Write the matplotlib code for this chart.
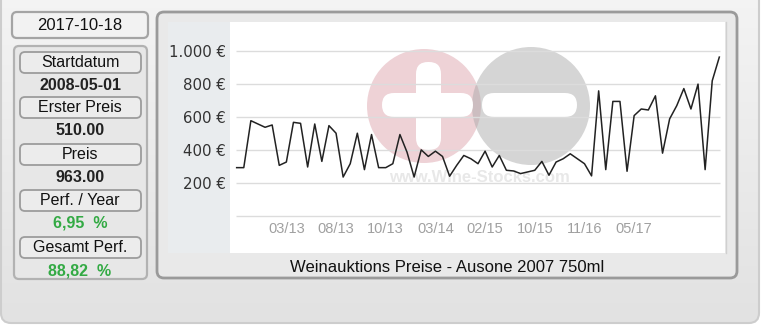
import numpy as np
import matplotlib
matplotlib.use("Agg")
import matplotlib.pyplot as plt
from matplotlib.patches import FancyBboxPatch, Circle, Rectangle

# chart data
preise = [292, 292, 577, 557, 537, 551, 306, 326, 567, 561,
          296, 557, 330, 547, 501, 235, 316, 501, 280, 493,
          292, 292, 316, 493, 386, 235, 400, 360, 392, 360,
          240, 306, 366, 346, 316, 392, 296, 366, 276, 272,
          256, 266, 276, 330, 246, 326, 346, 376, 346, 316,
          242, 758, 280, 694, 694, 270, 608, 648, 642, 728,
          380, 588, 668, 772, 648, 799, 280, 819, 963]
tick_pos = [7, 14, 21, 28, 35, 42, 49, 56]
tick_labels = ["03/13", "08/13", "10/13", "03/14", "02/15", "10/15", "11/16", "05/17"]
y_ticks = [200, 400, 600, 800, 1000]
grid_vals = [0, 200, 400, 600, 800, 1000]

datum = "2017-10-18"
info_labels = ["Startdatum", "Erster Preis", "Preis", "Perf. / Year", "Gesamt Perf."]
info_values = ["2008-05-01", "510.00", "963.00", "6,95  %", "88,82  %"]
info_colors = ["#222222", "#222222", "#222222", "#33aa44", "#33aa44"]
titel = "Weinauktions Preise - Ausone 2007 750ml"

W, H = 762, 327
FONT = "Liberation Sans"

fig = plt.figure(figsize=(W / 100, H / 100), dpi=100)
fig.patch.set_facecolor("white")


def frac(x0, y0, x1, y1):
    return [x0 / W, 1 - y1 / H, (x1 - x0) / W, (y1 - y0) / H]


def rbox(ax, x0, y0, x1, y1, r, fc, ec, lw, z=1):
    p = FancyBboxPatch((x0, y0), x1 - x0, y1 - y0,
                       boxstyle=f"round,pad=0,rounding_size={r}",
                       fc=fc, ec=ec, lw=lw, zorder=z)
    ax.add_patch(p)
    return p


# background layer in pixel coordinates
bg = fig.add_axes([0, 0, 1, 1])
bg.set_xlim(0, W)
bg.set_ylim(H, 0)
bg.axis("off")

outer = rbox(bg, 1, -12, 759, 323, 10, "none", "#cdcdcd", 1.5, z=2)
grad = np.linspace(0, 1, 100).reshape(-1, 1)
im = bg.imshow(grad, extent=(1, 759, 323, -12), cmap=matplotlib.colors.LinearSegmentedColormap.from_list(
    "g", ["#f4f4f4", "#ebebeb", "#e2e2e2"]), aspect="auto", zorder=1)
im.set_clip_path(outer)

# left column
rbox(bg, 12, 12, 148, 38, 5, "#f2f2f2", "#a4a4a4", 1.6, z=3)
bg.text(80, 25.5, datum, ha="center", va="center", fontsize=12, family=FONT, color="#111111", zorder=4)

rbox(bg, 14, 46, 147, 279, 5, "#e7e7e7", "#b2b2b2", 1.6, z=3)
pill_tops = [52, 97, 144, 190, 237]
for top, lab, val, col in zip(pill_tops, info_labels, info_values, info_colors):
    rbox(bg, 20, top, 141, top + 21, 5, "#ececec", "#9c9c9c", 1.3, z=4)
    bg.text(80, top + 10.5, lab, ha="center", va="center", fontsize=11.5, family=FONT,
            color="#111111", zorder=5)
    bg.text(80, top + 33.5, val, ha="center", va="center", fontsize=11.5, family=FONT,
            fontweight="bold", color=col, zorder=5)

# right panel
rbox(bg, 157, 12, 737, 278, 7, "#e9e9e9", "#9a9a9a", 2, z=3)
bg.add_patch(Rectangle((168, 22), 62, 231, fc="#e9ecee", ec="none", zorder=4))
bg.add_patch(Rectangle((230, 22), 495, 231, fc="white", ec="none", zorder=4))
bg.plot([725.5, 725.5], [22, 253], color="#d0d0d0", lw=1, zorder=5)
bg.text(447, 268, titel, ha="center", va="center", fontsize=12, family=FONT,
        color="#111111", zorder=5)

# watermark
bg.add_patch(Circle((424, 106), 57, fc="#d7959f", alpha=0.42, ec="none", zorder=5))
bg.add_patch(Circle((531, 106), 59, fc="#a8a8a8", alpha=0.48, ec="none", zorder=5))
rbox(bg, 416, 62, 441, 150, 12, "white", "none", 0, z=6)
rbox(bg, 382, 93, 473, 117, 12, "white", "none", 0, z=6)
rbox(bg, 482, 93, 577, 117, 12, "white", "none", 0, z=6)
bg.text(479, 177, "www.Wine-Stocks.com", ha="center", va="center", fontsize=12,
        fontweight="bold", family=FONT, color="#e8e8e8", zorder=6)

# chart
ax = fig.add_axes(frac(230, 22, 725, 253))
ax.set_facecolor("none")
x = np.arange(len(preise))
ax.hlines(grid_vals, -0.1, len(preise) - 0.9, color="#dcdcdc", lw=1, zorder=1)
ax.plot(x, preise, color="#222222", lw=1.1, zorder=3)
ax.set_xlim(-0.94, 68.8)
ax.set_ylim(-226, 1176)
ax.set_yticks(y_ticks, [f"{v:,}".replace(",", ".") + " €" for v in y_ticks])
ax.set_xticks(tick_pos, tick_labels)
ax.tick_params(axis="y", length=0, pad=3, labelsize=10.8, labelcolor="#333333")
ax.tick_params(axis="x", length=0, pad=-22, labelsize=10.5, labelcolor="#a0a0a0")
for t in ax.get_xticklabels():
    t.set_family(FONT)
for t in ax.get_yticklabels():
    t.set_family("DejaVu Sans")
for s in ax.spines.values():
    s.set_visible(False)

fig.savefig("out.png", dpi=100)
